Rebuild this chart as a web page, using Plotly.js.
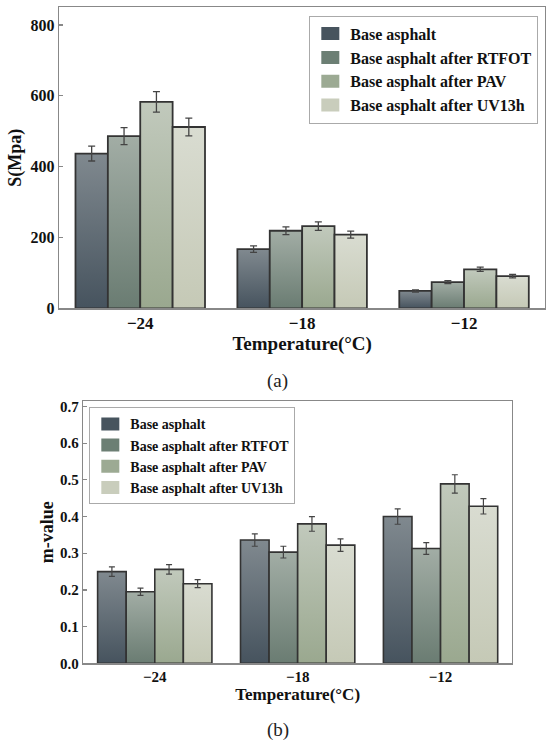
<!DOCTYPE html>
<html>
<head>
<meta charset="utf-8">
<script src="https://cdn.plot.ly/plotly-3.0.1.min.js"></script>
<style>
html,body{margin:0;padding:0;background:#fff;}
#chart{width:550px;height:745px;}
</style>
</head>
<body>
<div id="chart"></div>
<script>
// ---- data ----
const temperatures = ['\u221224', '\u221218', '\u221212'];
const seriesNames = ['Base asphalt', 'Base asphalt after RTFOT', 'Base asphalt after PAV', 'Base asphalt after UV13h'];
const stiffnessBase = [437, 167, 49];
const stiffnessRTFOT = [486, 219, 74];
const stiffnessPAV = [583, 232, 110];
const stiffnessUV = [512, 208, 91];
const stiffnessErrBase = [21, 9, 3];
const stiffnessErrRTFOT = [24, 11, 4];
const stiffnessErrPAV = [29, 12, 6];
const stiffnessErrUV = [25, 10, 5];
const mBase = [0.250, 0.336, 0.400];
const mRTFOT = [0.195, 0.303, 0.313];
const mPAV = [0.256, 0.380, 0.489];
const mUV = [0.217, 0.322, 0.428];
const mErrBase = [0.013, 0.017, 0.021];
const mErrRTFOT = [0.010, 0.016, 0.016];
const mErrPAV = [0.013, 0.020, 0.025];
const mErrUV = [0.011, 0.017, 0.021];
const yTicksS = [0, 200, 400, 600, 800];
const yTicksM = [0.0, 0.1, 0.2, 0.3, 0.4, 0.5, 0.6, 0.7];

const stiffness = [stiffnessBase, stiffnessRTFOT, stiffnessPAV, stiffnessUV];
const stiffnessErr = [stiffnessErrBase, stiffnessErrRTFOT, stiffnessErrPAV, stiffnessErrUV];
const mValue = [mBase, mRTFOT, mPAV, mUV];
const mValueErr = [mErrBase, mErrRTFOT, mErrPAV, mErrUV];

// ---- styles ----
const FONT = 'Liberation Serif, Times New Roman, serif';
const solidColors = ['#47545e', '#6c7f74', '#9caa93', '#c9cdbc'];
const gradTop = ['#80898f', '#a2ada5', '#c1c9bc', '#d9dcd1'];
const gradBottom = ['#46535e', '#6a7c72', '#9aa88f', '#c5c9b6'];

const data = [];
for (let i = 0; i < 4; i++) {
  data.push({
    type: 'bar', x: temperatures, y: stiffness[i], name: seriesNames[i],
    xaxis: 'x', yaxis: 'y', legend: 'legend',
    marker: {color: solidColors[i], line: {color: '#333', width: 1.8}},
    error_y: {type: 'data', array: stiffnessErr[i], visible: true, color: '#444', thickness: 1.3, width: 3.5}
  });
}
for (let i = 0; i < 4; i++) {
  data.push({
    type: 'bar', x: temperatures, y: mValue[i], name: seriesNames[i],
    xaxis: 'x2', yaxis: 'y2', legend: 'legend2',
    marker: {color: solidColors[i], line: {color: '#333', width: 1.6}},
    error_y: {type: 'data', array: mValueErr[i], visible: true, color: '#444', thickness: 1.2, width: 3}
  });
}

const boldFont = (size) => ({family: FONT, size: size, color: '#111', weight: 'bold'});
const frame = {showline: true, mirror: true, linecolor: '#888', linewidth: 1.5, showgrid: false, zeroline: false, automargin: false};

const layout = {
  width: 550, height: 745,
  margin: {l: 0, r: 0, t: 0, b: 0, pad: 0},
  paper_bgcolor: '#fff', plot_bgcolor: '#fff',
  barmode: 'group', bargap: 0.2, bargroupgap: 0,
  font: {family: FONT, color: '#111'},
  xaxis: Object.assign({}, frame, {
    domain: [0.1078, 0.9909], anchor: 'y', type: 'category', range: [-0.5, 2.5],
    ticks: '', tickfont: boldFont(17), ticklabelstandoff: -1,
    title: {text: 'Temperature(\u00B0C)', font: boldFont(19), standoff: 0}
  }),
  yaxis: Object.assign({}, frame, {
    domain: [0.5862, 0.9902], anchor: 'x', range: [0, 850],
    tickvals: yTicksS, ticks: 'inside', ticklen: 4, tickcolor: '#888', tickwidth: 1.2,
    tickfont: boldFont(16),
    title: {text: 'S(Mpa)', font: boldFont(18), standoff: 4}
  }),
  xaxis2: Object.assign({}, frame, {
    domain: [0.1515, 0.9309], anchor: 'y2', type: 'category', range: [-0.5, 2.5],
    ticks: '', tickfont: boldFont(15), ticklabelstandoff: -1,
    title: {text: 'Temperature(\u00B0C)', font: boldFont(17), standoff: 0}
  }),
  yaxis2: Object.assign({}, frame, {
    domain: [0.1097, 0.4617], anchor: 'x2', range: [0, 0.715],
    tickvals: yTicksM, tickformat: '.1f', ticks: 'inside', ticklen: 4, tickcolor: '#888', tickwidth: 1.2,
    tickfont: boldFont(15),
    title: {text: 'm-value', font: boldFont(18), standoff: 2}
  }),
  legend: {
    x: 0.5624, y: 0.9789, xanchor: 'left', yanchor: 'top',
    bgcolor: '#fff', bordercolor: '#aaa', borderwidth: 1,
    font: boldFont(16), traceorder: 'normal'
  },
  legend2: {
    x: 0.1624, y: 0.4533, xanchor: 'left', yanchor: 'top',
    bgcolor: '#fff', bordercolor: '#aaa', borderwidth: 1,
    font: boldFont(14), traceorder: 'normal'
  },
  annotations: [
    {text: '(a)', x: 0.505, y: 1 - 381 / 745, xref: 'paper', yref: 'paper', xanchor: 'center', yanchor: 'middle',
     showarrow: false, font: {family: FONT, size: 19, color: '#222'}},
    {text: '(b)', x: 0.505, y: 1 - 730 / 745, xref: 'paper', yref: 'paper', xanchor: 'center', yanchor: 'middle',
     showarrow: false, font: {family: FONT, size: 19, color: '#222'}}
  ]
};

Plotly.newPlot('chart', data, layout, {staticPlot: true, displayModeBar: false}).then(function (gd) {
  const ns = 'http://www.w3.org/2000/svg';
  const svg = gd.querySelector('.main-svg');
  let defs = svg.querySelector('defs');
  if (!defs) { defs = document.createElementNS(ns, 'defs'); svg.insertBefore(defs, svg.firstChild); }
  for (let s = 0; s < 4; s++) {
    const lg = document.createElementNS(ns, 'linearGradient');
    lg.setAttribute('id', 'barGrad' + s);
    lg.setAttribute('x1', '0'); lg.setAttribute('y1', '0');
    lg.setAttribute('x2', '0'); lg.setAttribute('y2', '1');
    const st1 = document.createElementNS(ns, 'stop');
    st1.setAttribute('offset', '0'); st1.setAttribute('stop-color', gradTop[s]);
    const st2 = document.createElementNS(ns, 'stop');
    st2.setAttribute('offset', '1'); st2.setAttribute('stop-color', gradBottom[s]);
    lg.appendChild(st1); lg.appendChild(st2);
    defs.appendChild(lg);
  }
  gd.querySelectorAll('.barlayer .trace').forEach(function (g) {
    const cd = g.__data__;
    if (!cd || !cd[0] || !cd[0].trace) return;
    const s = cd[0].trace.index % 4;
    g.querySelectorAll('.point path').forEach(function (p) {
      p.style.fill = 'url(#barGrad' + s + ')';
    });
  });
  gd.querySelectorAll('.legendpoints path').forEach(function (p) {
    p.setAttribute('d', 'M9,6.5H-9V-6.5H9Z');
    p.style.strokeWidth = '0';
  });
});
</script>
</body>
</html>
